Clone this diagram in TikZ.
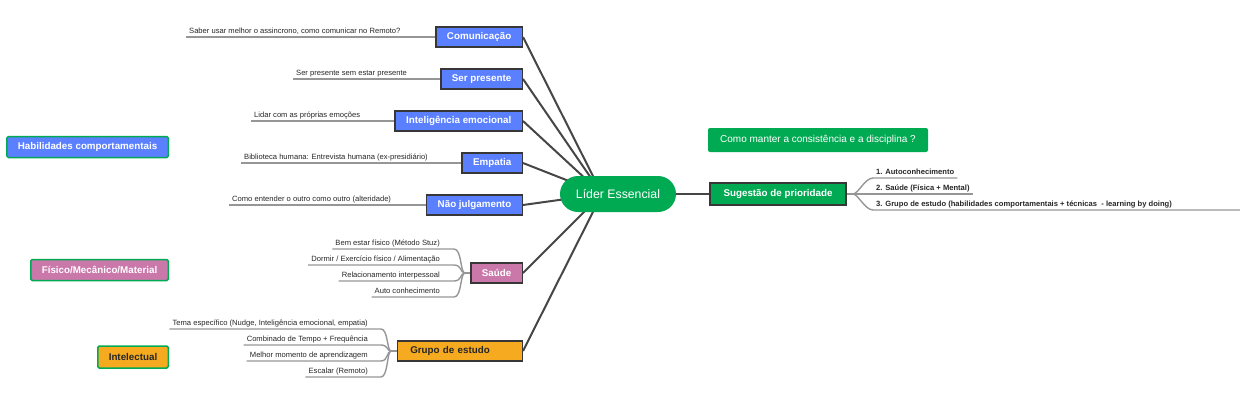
\documentclass[tikz,border=0pt]{standalone}
\usepackage{fontspec}
\setmainfont{Liberation Sans}
\usetikzlibrary{backgrounds}
\definecolor{azul}{RGB}{90,128,255}
\definecolor{rosa}{RGB}{202,120,170}
\definecolor{laranja}{RGB}{246,170,32}
\definecolor{verde}{RGB}{0,170,82}
\definecolor{borda}{RGB}{55,55,55}
\definecolor{ramo}{RGB}{70,70,70}
\definecolor{cinza}{RGB}{150,150,150}
\begin{document}
\begin{tikzpicture}[x=1pt,y=-1pt,
    topico/.style={draw=borda,line width=1.5pt,anchor=east,inner xsep=11pt,inner ysep=0pt,minimum height=20pt,text=white,font=\fontsize{9.8}{11}\selectfont\bfseries},
    rotulo/.style={draw=verde,line width=1.5pt,rounded corners=1.5pt,anchor=east,inner xsep=11pt,inner ysep=0pt,minimum height=21pt,text=white,font=\fontsize{9.8}{11}\selectfont\bfseries},
    folha/.style={inner xsep=3pt,inner ysep=1.5pt,text height=5.4pt,text depth=1.6pt,text=black!85,font=\fontsize{7.6}{8}\selectfont},
    passo/.style={folha,anchor=south west,font=\fontsize{7.6}{8}\selectfont\bfseries},
    galho/.style={draw=ramo,line width=2pt},
    fio/.style={draw=cinza,line width=1.4pt}]
\useasboundingbox (0,0) rectangle (1240,400);

\node[fill=verde,text=white,rounded corners=18pt,minimum width=116pt,minimum height=36pt,inner sep=0pt,font=\fontsize{12.3}{14}\selectfont] (lider) at (618,194) {Líder Essencial};
\coordinate (nucleo) at ([xshift=-16pt]lider.center);

\node[topico,fill=azul] (comunicacao) at (523,37) {Comunicação};
\node[topico,fill=azul] (presente) at (523,79) {Ser presente};
\node[topico,fill=azul] (inteligencia) at (523,121) {Inteligência emocional};
\node[topico,fill=azul] (empatia) at (523,163) {Empatia};
\node[topico,fill=azul] (julgamento) at (523,205) {Não julgamento};
\node[topico,fill=rosa] (saude) at (523,273) {Saúde};
\node[topico,fill=laranja,text=black!85,text width=99pt,align=left,inner xsep=13pt] (grupo) at (523,351) {Grupo de estudo};

\node[folha,anchor=south west] (c1) at (186,37) {Saber usar melhor o assincrono, como comunicar no Remoto?};
\node[folha,anchor=south west] (p1) at (293,79) {Ser presente sem estar presente};
\node[folha,anchor=south west] (i1) at (251,121) {Lidar com as próprias emoções};
\node[folha,anchor=south west] (e1) at (241,163) {Biblioteca humana: Entrevista humana (ex-presidiário)};
\node[folha,anchor=south west] (j1) at (229,205) {Como entender o outro como outro (alteridade)};

\node[folha,anchor=south east] (s1) at (443,249) {Bem estar físico (Método Stuz)};
\node[folha,anchor=south east] (s2) at (443,265) {Dormir / Exercício físico / Alimentação};
\node[folha,anchor=south east] (s3) at (443,281) {Relacionamento interpessoal};
\node[folha,anchor=south east] (s4) at (443,297) {Auto conhecimento};
\coordinate (sborda) at (454,0);
\coordinate (sjunta) at (465,273);

\node[folha,anchor=south east] (g1) at (371,329) {Tema específico (Nudge, Inteligência emocional, empatia)};
\node[folha,anchor=south east] (g2) at (371,345) {Combinado de Tempo + Frequência};
\node[folha,anchor=south east] (g3) at (371,361) {Melhor momento de aprendizagem};
\node[folha,anchor=south east] (g4) at (371,377) {Escalar (Remoto)};
\coordinate (gjunta) at (391,351);

\node[rotulo,fill=azul] (habilidades) at (169,147) {Habilidades comportamentais};
\node[rotulo,fill=rosa] (fisico) at (169,270) {Físico/Mecânico/Material};
\node[rotulo,fill=laranja,text=black!85,minimum height=22pt] (intelectual) at (169,357) {Intelectual};

\node[fill=verde,text=white,rounded corners=2pt,minimum width=220pt,minimum height=24pt,inner sep=0pt,font=\fontsize{10}{12}\selectfont] (consistencia) at (818,140) {Como manter a consistência e a disciplina ?};
\node[fill=verde,draw=borda,line width=1.5pt,text=white,minimum width=136pt,minimum height=22pt,inner sep=0pt,font=\fontsize{9.8}{11}\selectfont\bfseries] (sugestao) at (778,194) {Sugestão de prioridade};
\coordinate (pjunta) at (853,194);
\node[passo] (n1) at (873,178) {1. Autoconhecimento};
\node[passo] (n2) at (873,194) {2. Saúde (Física + Mental)};
\node[passo] (n3) at (873,210) {3. Grupo de estudo (habilidades comportamentais + técnicas\ \ - learning by doing)};

\begin{scope}[on background layer]
\foreach \t in {comunicacao,presente,inteligencia,empatia,julgamento,saude,grupo}
  \draw[galho] (\t.east) -- (nucleo);
\draw[galho] (lider.east) -- (sugestao.west);
\end{scope}

\draw[fio] (c1.south west) -- (comunicacao.west);
\draw[fio] (p1.south west) -- (presente.west);
\draw[fio] (i1.south west) -- (inteligencia.west);
\draw[fio] (e1.south west) -- (empatia.west);
\draw[fio] (j1.south west) -- (julgamento.west);

\foreach \f in {s1,s2,s3,s4}
  \draw[fio] (\f.south west) -- (\f.south west -| sborda) .. controls +(8,0) and +(-5,0) .. (sjunta);
\draw[fio] (sjunta) -- (saude.west);
\foreach \f in {g1,g2,g3,g4}
  \draw[fio] (\f.south west) -- (\f.south east) -- ++(10,0) .. controls +(7,0) and +(-4,0) .. (gjunta);
\draw[fio] (gjunta) -- (grupo.west);

\draw[fio] (sugestao.east) -- (pjunta);
\foreach \f in {n1,n2}
  \draw[fio] (pjunta) .. controls +(5,0) and +(-8,0) .. (\f.south west) -- (\f.south east);
\draw[fio] (pjunta) .. controls +(5,0) and +(-8,0) .. (n3.south west) -- ++(370,0);
\end{tikzpicture}
\end{document}
